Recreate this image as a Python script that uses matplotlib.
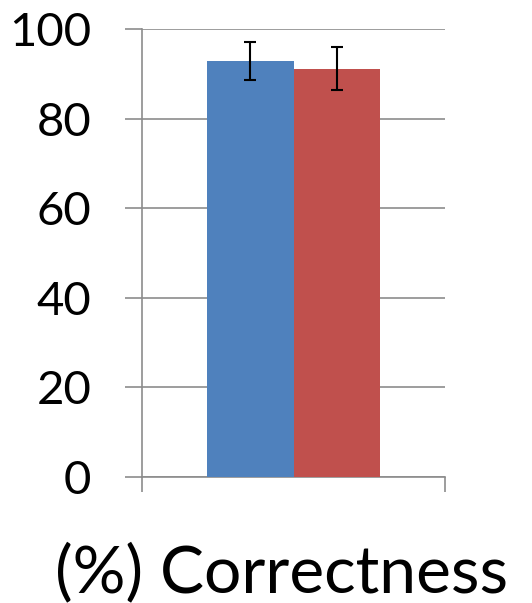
import matplotlib
matplotlib.use("Agg")
import matplotlib.pyplot as plt

series = ["Series A", "Series B"]
values = [92.9, 91.1]
errors = [4.2, 4.8]
colors = ["#4F81BD", "#C0504D"]
yticks = [0, 20, 40, 60, 80, 100]
xlabel = "(%) Correctness"

plt.rcParams['font.family'] = ['Lato', 'DejaVu Sans']
fig = plt.figure(figsize=(5.32, 6.03), dpi=100)
ax = fig.add_axes([142/532, 1-477/603, (445-142)/532, (477-29)/603])

w = 0.2855
offsets = [-w/2, w/2]
for off, v, e, c in zip(offsets, values, errors, colors):
    ax.bar(off, v, width=w, color=c, zorder=3)
    ax.errorbar(off, v, yerr=e, fmt='none', ecolor='black', elinewidth=1.5,
                capsize=4.5, capthick=1.5, zorder=4)

gray = "#8c8c8c"
ax.set_xlim(-0.5, 0.5)
ax.set_ylim(0, 100)
ax.set_yticks(yticks)
ax.set_yticklabels([str(t) for t in yticks], fontsize=34)
ax.set_xticks([-0.5, 0.5])
ax.set_xticklabels(["", ""])
ax.tick_params(axis='y', length=12.5, width=1.2, color=gray, pad=24)
ax.tick_params(axis='x', length=11, width=1.2, color=gray)
ax.yaxis.grid(True, color=gray, linewidth=1.2, zorder=0)
ax.set_axisbelow(True)
for s in ["top", "right"]:
    ax.spines[s].set_visible(False)
for s in ["left", "bottom"]:
    ax.spines[s].set_color(gray)
    ax.spines[s].set_linewidth(1.2)

fig.text(282/532, 1-592/603, xlabel, fontsize=47.5, ha='center', va='baseline')

fig.savefig("out.png", dpi=100)
